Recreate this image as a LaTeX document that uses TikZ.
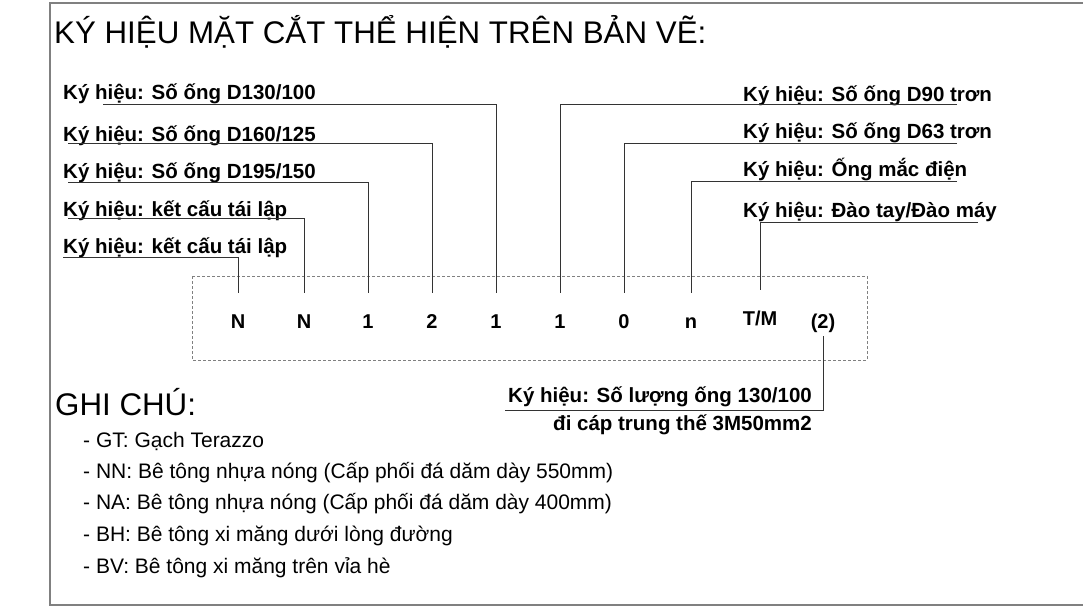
\documentclass[tikz,border=0pt]{standalone}
\usepackage{fontspec}
\setmainfont{Liberation Sans}
\usetikzlibrary{positioning}
\definecolor{Vien}{HTML}{808080}
\definecolor{Dan}{HTML}{333333}

\begin{document}
\begin{tikzpicture}[x=1pt,y=-1pt,
  tieude/.style={font=\fontsize{31.3}{36}\selectfont, inner sep=0pt, anchor=base west},
  nhan/.style={font=\fontsize{20.5}{24}\selectfont\bfseries, inner sep=0pt, anchor=base west},
  kyhieu/.style={font=\fontsize{20}{24}\selectfont\bfseries, inner sep=0pt, text height=13pt, anchor=base},
  ghichu/.style={font=\fontsize{21}{25}\selectfont, inner sep=0pt, anchor=base west},
  dan/.style={draw=Dan, line width=1pt}]
\useasboundingbox (0,0) rectangle (1083,607);

% Khung ngoai
\draw[Vien, line width=1.6pt] (1090,3) -- (50,3) -- (50,605) -- (1090,605);

% Tieu de
\node[tieude] (tieude) at (54,44) {KÝ HIỆU MẶT CẮT THỂ HIỆN TRÊN BẢN VẼ:};

% Khung ky hieu
\draw[Vien, dash pattern=on 3pt off 2pt] (192,276) rectangle (867,360);
\node[kyhieu] (s1) at (238,328) {N};
\node[kyhieu] (s2) at (304,328) {N};
\node[kyhieu] (s3) at (368,328) {1};
\node[kyhieu] (s4) at (432,328) {2};
\node[kyhieu] (s5) at (496,328) {1};
\node[kyhieu] (s6) at (560,328) {1};
\node[kyhieu] (s7) at (624,328) {0};
\node[kyhieu] (s8) at (691,328) {n};
\node[kyhieu] (s9) at (760,325) {T/M};
\node[kyhieu] (s10) at (823,328) {(2)};

% Nhan ben trai
\node[nhan] (d130) at (63,100) {Ký hiệu: Số ống D130/100};
\node[nhan] (d160) at (63,141) {Ký hiệu: Số ống D160/125};
\node[nhan] (d195) at (63,178) {Ký hiệu: Số ống D195/150};
\node[nhan] (kc1) at (63,216) {Ký hiệu: kết cấu tái lập};
\node[nhan] (kc2) at (63,253) {Ký hiệu: kết cấu tái lập};

\draw[dan] ([shift={(40,5)}]d130.base west) -| ([yshift=22pt]s5.north);
\draw[dan] ([shift={(5,2)}]d160.base west) -| ([yshift=22pt]s4.north);
\draw[dan] ([shift={(5,4)}]d195.base west) -| ([yshift=22pt]s3.north);
\draw[dan] ([shift={(5,2)}]kc1.base west) -| ([yshift=22pt]s2.north);
\draw[dan] ([shift={(0,4)}]kc2.base west) -| ([yshift=22pt]s1.north);

% Nhan ben phai
\node[nhan] (d90) at (743,102) {Ký hiệu: Số ống D90 trơn};
\node[nhan] (d63) at (743,138) {Ký hiệu: Số ống D63 trơn};
\node[nhan] (mac) at (743,176) {Ký hiệu: Ống mắc điện};
\node[nhan] (dao) at (743,217) {Ký hiệu: Đào tay/Đào máy};

\draw[dan] ([shift={(214,3)}]d90.base west) -| ([yshift=22pt]s6.north);
\draw[dan] ([shift={(214,5)}]d63.base west) -| ([yshift=22pt]s7.north);
\draw[dan] ([shift={(214,5)}]mac.base west) -| ([yshift=22pt]s8.north);
\draw[dan] ([shift={(235,5)}]dao.base west) -| ([yshift=22pt]s9.north);

% So luong ong
\node[nhan, anchor=base east] (sl) at (812,402) {Ký hiệu: Số lượng ống 130/100};
\node[nhan, anchor=base east] (cap) at (812,430) {đi cáp trung thế 3M50mm2};
\draw[dan] ([shift={(-3,8)}]sl.base west) -| ([yshift=-4pt]s10.south);

% Ghi chu
\node[tieude] (ghichu) at (55,415) {GHI CHÚ:};
\node[ghichu] (gt) at (83,447) {- GT: Gạch Terazzo};
\node[ghichu] (nn) at (83,478) {- NN: Bê tông nhựa nóng (Cấp phối đá dăm dày 550mm)};
\node[ghichu] (na) at (83,509) {- NA: Bê tông nhựa nóng (Cấp phối đá dăm dày 400mm)};
\node[ghichu] (bh) at (83,541) {- BH: Bê tông xi măng dưới lòng đường};
\node[ghichu] (bv) at (83,573) {- BV: Bê tông xi măng trên vỉa hè};
\end{tikzpicture}
\end{document}
